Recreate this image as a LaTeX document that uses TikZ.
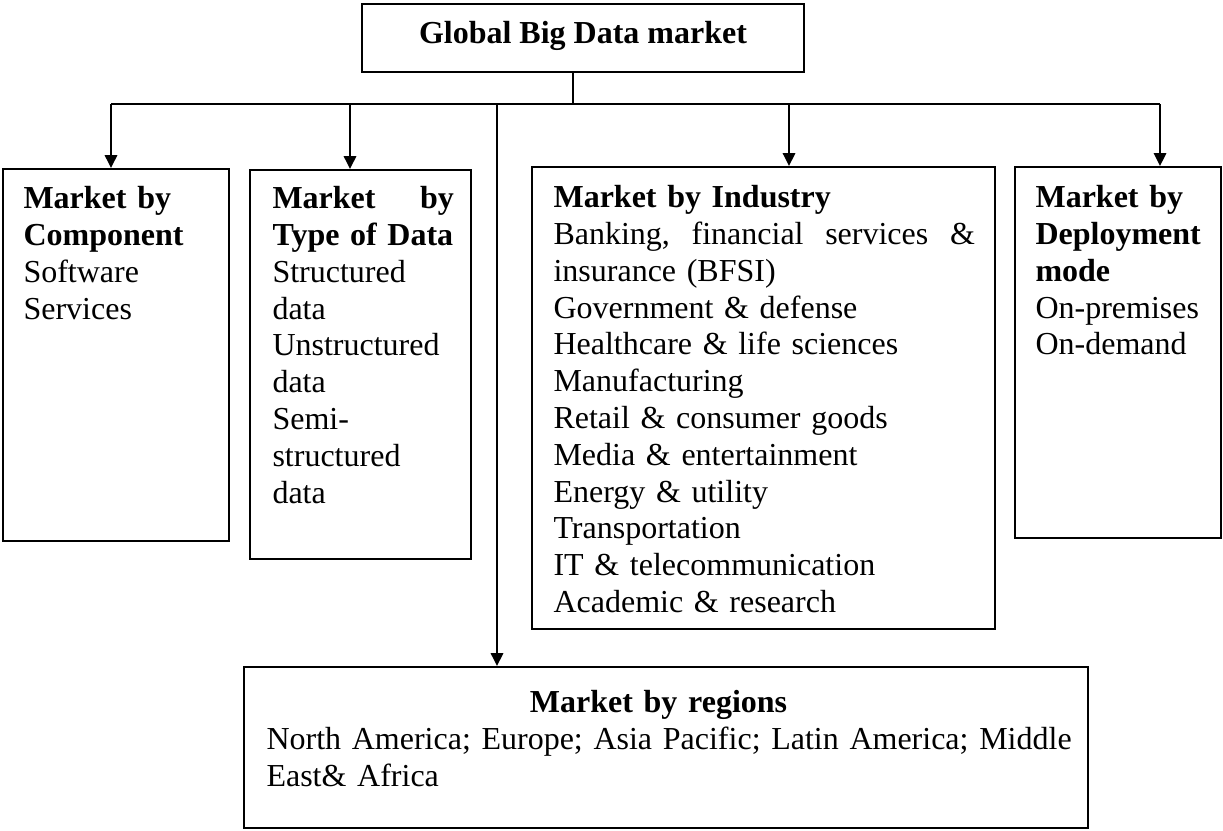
\documentclass[tikz,border=0pt]{standalone}
\usepackage{fontspec}
\setmainfont{Liberation Serif}
\usetikzlibrary{arrows.meta,fit}
\hyphenpenalty=10000
\frenchspacing

\tikzset{
  box/.style={draw, line width=0.75pt, inner sep=0pt, fit={#1}},
  txt/.style={anchor=north west, inner sep=0pt, text width=#1, align=left,
    font=\fontsize{12pt}{13.8pt}\selectfont},
  link/.style={line width=0.75pt, -{Triangle[length=4.8pt,width=4.6pt]}}
}

\begin{document}
\begin{tikzpicture}[x=0.375pt, y=-0.375pt]
     \useasboundingbox (0,0) rectangle (1223,830);
     % boxes
     \node[box={(362,4) (804,72)}] (top) {};
     \node[box={(3,169) (229,541)}] (comp) {};
     \node[box={(250,170) (471,559)}] (dtype) {};
     \node[box={(532,167) (995,629)}] (indus) {};
     \node[box={(1015,167) (1221,538)}] (deploy) {};
     \node[box={(244,667) (1088,828)}] (regions) {};
     % texts
     \node[anchor=base, inner sep=0pt, font=\fontsize{12pt}{13.8pt}\selectfont\bfseries] at (583,43) {Global Big Data market};
     \node[txt=70pt] at (23,186) {\textbf{Market by}\\ \textbf{Component}\\ Software\\ Services};
     \node[txt=68pt] at (272,186) {\textbf{Market\hfill by}\\ \textbf{Type of Data}\\ Structured\\ data\\ Unstructured\\ data\\ Semi-\\ structured\\ data};
     \node[txt=158pt] at (553,185) {\textbf{Market by Industry}\\ Banking,\hfill financial\hfill services\hfill \&\\ insurance (BFSI)\\ Government \& defense\\ Healthcare \& life sciences\\ Manufacturing\\ Retail \& consumer goods\\ Media \& entertainment\\ Energy \& utility\\ Transportation\\ IT \& telecommunication\\ Academic \& research};
     \node[txt=66pt] at (1035,185) {\textbf{Market by}\\ \textbf{Deployment}\\ \textbf{mode}\\ On-premises\\ On-demand};
     \node[txt=310pt] at (266,690) {\makebox[294pt]{\textbf{Market by regions}}\\ North America; Europe; Asia Pacific; Latin America; Middle\hspace*{\fill}\\ East\& Africa};
     % connectors
     \coordinate (hub) at (573,104);
     \draw[line width=0.75pt] (top.south -| hub) -- (hub);
     \draw[line width=0.75pt] (111,104) -- (1160,104);
     \foreach \x/\n in {111/comp, 350/dtype, 789/indus, 1160/deploy}
        \draw[link] (\x,104) -- ({\x,104} |- \n.north);
     \draw[link] (497,104) -- ({497,104} |- regions.north);
\end{tikzpicture}
\end{document}
